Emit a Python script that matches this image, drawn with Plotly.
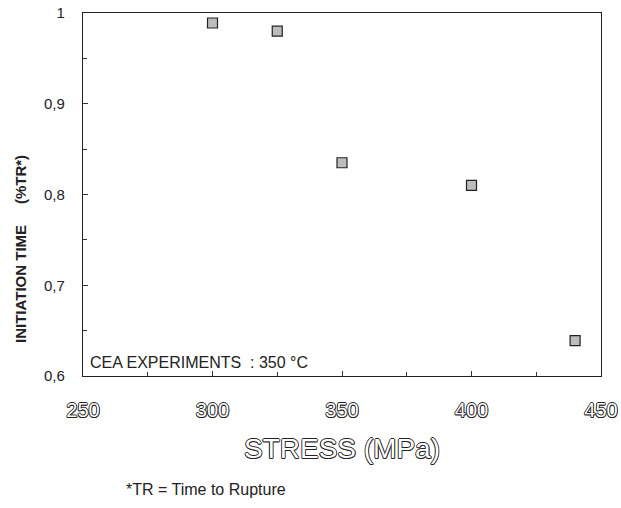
import plotly.graph_objects as go

stress = [300, 325, 350, 400, 440]
initiation = [0.989, 0.980, 0.835, 0.810, 0.639]

x_ticks = [250, 300, 350, 400, 450]
y_ticks = [0.6, 0.7, 0.8, 0.9, 1.0]

outline = ("-0.8px 0 #222, 0.8px 0 #222, 0 -0.8px #222, 0 0.8px #222, "
           "-0.6px -0.6px #333, 0.6px 0.6px #333, -0.6px 0.6px #333, 0.6px -0.6px #333")

fig = go.Figure()
fig.add_trace(go.Scatter(
    x=stress, y=initiation, mode="markers",
    marker=dict(symbol="square", size=10, color="#bdbdbd",
                line=dict(color="#222", width=1.2)),
    showlegend=False,
))

fig.update_layout(
    width=621, height=508,
    margin=dict(l=83, r=20, t=13, b=132),
    paper_bgcolor="white", plot_bgcolor="white",
    separators=",.",
    font=dict(family="Liberation Sans, Arial, sans-serif", color="#222"),
    xaxis=dict(
        range=[250, 450], tickvals=x_ticks, ticks="inside", ticklen=5,
        tickcolor="#333", showline=True, linecolor="#222", linewidth=1.3,
        mirror=True, showgrid=False, zeroline=False, automargin=False,
        minor=dict(dtick=25, ticks="inside", ticklen=4, tickcolor="#333"),
        tickfont=dict(size=20, color="white", shadow=outline),
        ticklabelstandoff=16,
        title=dict(text="STRESS (MPa)", standoff=18,
                   font=dict(size=28, color="white", shadow=outline)),
    ),
    yaxis=dict(
        range=[0.6, 1.0], tickvals=y_ticks, ticks="inside", ticklen=5,
        tickcolor="#333", showline=True, linecolor="#222", linewidth=1.3,
        mirror=True, showgrid=False, zeroline=False, automargin=False,
        minor=dict(dtick=0.05, ticks="inside", ticklen=4, tickcolor="#333"),
        tickfont=dict(size=15, color="#222"),
        ticklabelstandoff=14,
    ),
    annotations=[
        dict(text="INITIATION TIME &nbsp; &nbsp; (%TR*)", xref="paper", yref="paper",
             x=(20 - 83) / 518, y=(376 - 249) / 363, xanchor="center", yanchor="middle",
             textangle=-90, showarrow=False,
             font=dict(size=15, color="#222", weight="bold")),
        dict(text="CEA EXPERIMENTS &nbsp;: 350 °C", xref="paper", yref="paper",
             x=(88 - 83) / 518, y=(376 - 362) / 363, xanchor="left", yanchor="middle",
             showarrow=False, font=dict(size=16, color="#222")),
        dict(text="*TR = Time to Rupture", xref="paper", yref="paper",
             x=(124 - 83) / 518, y=-(489 - 376) / 363, xanchor="left", yanchor="middle",
             showarrow=False, font=dict(size=16, color="#222")),
    ],
)

fig.write_html("out.html")
